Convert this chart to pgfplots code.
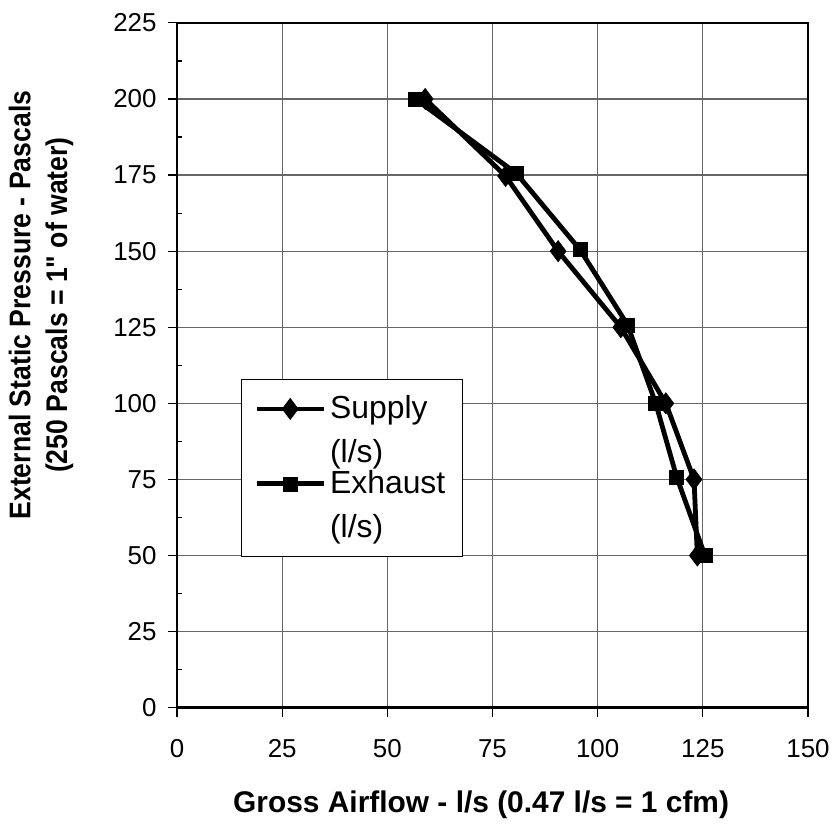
\documentclass[border=0pt]{standalone}
\usepackage{pgfplots}
\pgfplotsset{compat=1.18}
\usepackage{fontspec}
\setmainfont{Liberation Sans}[Ligatures=TeXOff]
\begin{document}
\begin{tikzpicture}
\useasboundingbox (0,0) rectangle (417.5bp,417.5bp);
\begin{axis}[
	at={(88.5bp,63.65bp)}, anchor=south west,
	scale only axis,
	width=315.5bp, height=342.4bp,
	xmin=0, xmax=150, ymin=0, ymax=225,
	xtick={0,25,...,150}, ytick={0,25,...,225},
	minor y tick num=1,
	grid=major,
	major grid style={black!60, line width=0.6bp},
	axis line style={black, line width=1.3bp},
	tick align=outside,
	major tick length=4.5bp, minor tick length=2.5bp,
	tick style={black, line width=0.6bp},
	minor y tick style={xshift=2.5bp},
	tick pos=left,
	/pgf/number format/assume math mode=true,
	ticklabel style={font=\fontsize{13}{15}\selectfont},
	xticklabel style={yshift=-8bp},
	yticklabel style={xshift=-2.2bp},
	xlabel={Gross Airflow - l/s (0.47 l/s = 1 cfm)},
	ylabel={\scalebox{0.89}[1]{External Static Pressure - Pascals}\\\scalebox{0.89}[1]{(250 Pascals = 1" of water)}},
	label style={font=\bfseries\fontsize{15}{18.5}\selectfont, align=center},
	xlabel style={at={(axis description cs:0.482,-0.142)}, anchor=center},
	ylabel style={at={(axis description cs:-0.2155,0.588)}, anchor=center},
	legend style={at={(axis description cs:0.101,0.48)}, anchor=north west,
		draw=black, line width=0.6bp, inner xsep=6.5bp, inner ysep=6bp,
		font=\fontsize{16}{22}\selectfont, row sep=-1.5bp,
		cells={anchor=west, align=left}},
	legend image code/.code={
		\draw[mark repeat=2,mark phase=2] plot coordinates {(0bp,10.8bp) (16.75bp,10.8bp) (33.5bp,10.8bp)};},
]
\addplot[black, line width=2.4bp, mark=diamond*, mark size=5.3bp, mark options={solid, line width=0.3bp}] coordinates {
(59.0,200)
(78.1,174.7)
(90.6,150)
(105.5,125)
(116.2,100)
(122.9,75)
(123.7,50)
};
\addlegendentry{Supply\\(l/s)}
\addplot[black, line width=2.4bp, mark=square*, mark size=3.5bp, mark options={solid, line width=0.3bp}] coordinates {
(56.7,200)
(80.7,175.5)
(95.8,150.5)
(107.1,125.8)
(113.8,100)
(118.8,75.7)
(125.5,50)
};
\addlegendentry{Exhaust\\(l/s)}
\end{axis}
\end{tikzpicture}
\end{document}
